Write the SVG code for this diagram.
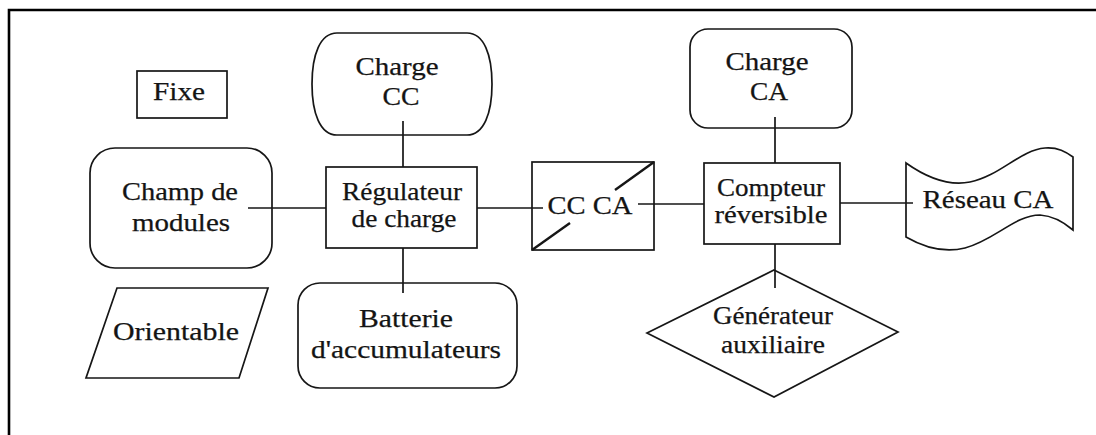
<svg xmlns="http://www.w3.org/2000/svg" width="1096" height="435" viewBox="0 0 1096 435">
  <style>
    .shape { fill: none; stroke: #161616; stroke-width: 1.7; }
    .wire { fill: none; stroke: #161616; stroke-width: 1.7; }
    .frame { fill: none; stroke: #000; stroke-width: 2.6; }
    text { font-family: "Liberation Serif", "Times New Roman", serif; font-size: 25px; fill: #141414; stroke: #141414; stroke-width: 0.25; text-anchor: middle; }
  </style>
  <rect width="1096" height="435" fill="#fff"/>

  <!-- page frame (top and left edges only) -->
  <path class="frame" d="M9,435 V10 H1096"/>

  <!-- connectors -->
  <g id="connectors">
    <line class="wire" x1="403" y1="121" x2="403" y2="167"/>
    <line class="wire" x1="248" y1="208" x2="326" y2="208"/>
    <line class="wire" x1="403" y1="248" x2="403" y2="293"/>
    <line class="wire" x1="477" y1="208" x2="543" y2="208"/>
    <line class="wire" x1="638" y1="204" x2="704" y2="204"/>
    <line class="wire" x1="775" y1="117" x2="775" y2="163"/>
    <line class="wire" x1="840" y1="203" x2="913" y2="203"/>
    <line class="wire" x1="775" y1="244" x2="775" y2="288"/>
  </g>

  <g id="fixe">
    <rect class="shape" x="137" y="71" width="90" height="47"/>
    <text x="179" y="100" textLength="52" lengthAdjust="spacingAndGlyphs">Fixe</text>
  </g>

  <g id="charge-cc">
    <path class="shape" d="M337,33 H467 C484,33 492,55 492,84 C492,113 484,135 467,135 H337 C320,135 312,113 312,84 C312,55 320,33 337,33 Z"/>
    <text x="397" y="75" textLength="83" lengthAdjust="spacingAndGlyphs">Charge</text>
    <text x="401" y="105" textLength="37" lengthAdjust="spacingAndGlyphs">CC</text>
  </g>

  <g id="charge-ca">
    <rect class="shape" x="690" y="29" width="162" height="99" rx="18"/>
    <text x="767" y="70" textLength="83" lengthAdjust="spacingAndGlyphs">Charge</text>
    <text x="769" y="100" textLength="38" lengthAdjust="spacingAndGlyphs">CA</text>
  </g>

  <g id="champ-modules">
    <rect class="shape" x="90" y="148" width="182" height="120" rx="25"/>
    <text x="180" y="200" textLength="116" lengthAdjust="spacingAndGlyphs">Champ de</text>
    <text x="181" y="231" textLength="98" lengthAdjust="spacingAndGlyphs">modules</text>
  </g>

  <g id="orientable">
    <polygon class="shape" points="117,288 268,288 239,378 86,378"/>
    <text x="176" y="340" textLength="126" lengthAdjust="spacingAndGlyphs">Orientable</text>
  </g>

  <g id="regulateur">
    <rect class="shape" x="326" y="167" width="151" height="81"/>
    <text x="402" y="200" textLength="120" lengthAdjust="spacingAndGlyphs">Régulateur</text>
    <text x="404" y="227" textLength="105" lengthAdjust="spacingAndGlyphs">de charge</text>
  </g>

  <g id="onduleur">
    <rect class="shape" x="532" y="162" width="122" height="88"/>
    <line class="wire" x1="532" y1="250" x2="570" y2="223" style="stroke-width:2.4"/>
    <line class="wire" x1="615" y1="190" x2="654" y2="162" style="stroke-width:2.4"/>
    <text x="590" y="214" textLength="85" lengthAdjust="spacingAndGlyphs">CC CA</text>
  </g>

  <g id="compteur">
    <rect class="shape" x="704" y="163" width="136" height="81"/>
    <text x="771" y="196" textLength="108" lengthAdjust="spacingAndGlyphs">Compteur</text>
    <text x="771" y="223" textLength="113" lengthAdjust="spacingAndGlyphs">réversible</text>
  </g>

  <g id="reseau-ca">
    <path class="shape" d="M906,163 C930,180 950,186 970,182 C1000,176 1020,150 1045,148 C1058,147 1066,152 1073,157 L1073,230 C1066,224 1055,216 1040,215 C1015,215 995,240 965,248 C945,253 925,248 906,237 Z"/>
    <text x="988" y="208" textLength="131" lengthAdjust="spacingAndGlyphs">Réseau CA</text>
  </g>

  <g id="batterie">
    <rect class="shape" x="298" y="283" width="219" height="105" rx="22"/>
    <text x="406" y="327" textLength="94" lengthAdjust="spacingAndGlyphs">Batterie</text>
    <text x="406" y="358" textLength="190" lengthAdjust="spacingAndGlyphs">d'accumulateurs</text>
  </g>

  <g id="generateur">
    <polygon class="shape" points="774,270 898,332 774,397 647,333"/>
    <text x="773" y="324" textLength="120" lengthAdjust="spacingAndGlyphs">Générateur</text>
    <text x="773" y="353" textLength="104" lengthAdjust="spacingAndGlyphs">auxiliaire</text>
  </g>
</svg>
